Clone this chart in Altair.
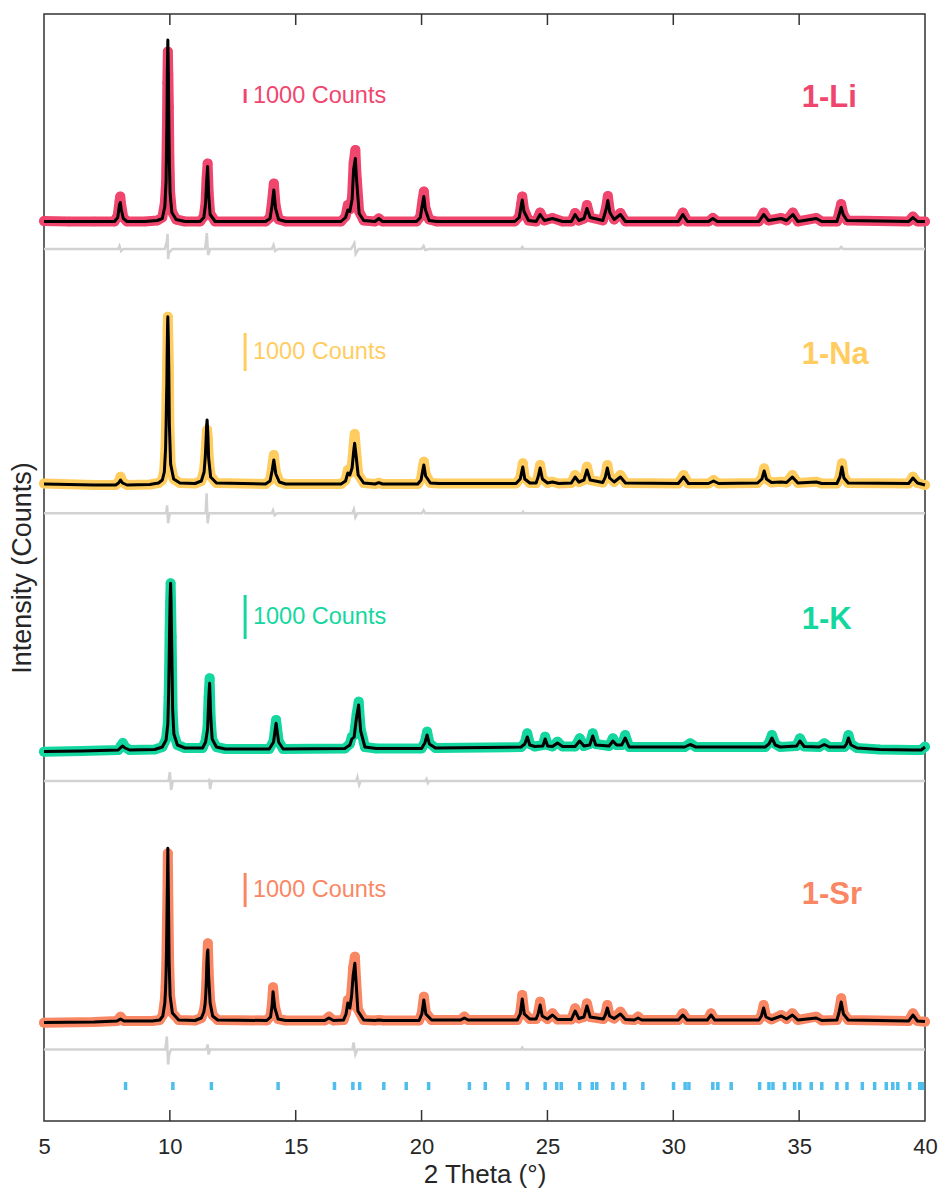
import altair as alt
import pandas as pd

# ---------------- data ----------------
PANELS = ["1-Li", "1-Na", "1-K", "1-Sr"]
COLORS = ["#F0466E", "#FFCD5F", "#14D7A0", "#FA8764"]
OFFSETS = [899.5, 637.0, 372.0, 100.0]          # stacking offset of each pattern
DIFF_OFFSETS = [872.0, 607.7, 340.0, 71.5]      # stacking offset of each difference curve
BAR_CENTER = [1025.0, 769.0, 504.0, 231.0]      # centre of the "1000 Counts" bar
BAR_LENGTH = [14.0, 38.0, 44.0, 34.0]           # length of 1000 counts in each pattern
LABEL_Y = [1023.0, 766.0, 501.0, 226.0]
X_TICKS = [5, 10, 15, 20, 25, 30, 35, 40]

# (2theta, observed, calculated) -- intensity above each pattern's baseline
LI_PROFILE = [
    (5.00, 0.5, 0), (6.00, 0, 0), (7.00, 0, 0), (7.80, 0, 0), (7.93, 6, 4), (8.00, 20, 17),
    (8.03, 25, 19), (8.07, 16, 12), (8.15, 4, 3), (8.30, 0, 0), (9.00, 0, 0), (9.50, 1, 1),
    (9.70, 4, 3), (9.80, 18.5, 15), (9.85, 38.5, 40), (9.88, 88.5, 95), (9.89, 106.5, 118),
    (9.90, 138.5, 150), (9.92, 170, 181.5), (9.94, 146.5, 150), (9.96, 114.5, 100),
    (9.98, 64.5, 60), (10.01, 29.5, 28), (10.08, 10, 9), (10.25, 2, 2), (10.60, 0, 0),
    (11.20, 0, 0), (11.35, 5, 4), (11.42, 19.5, 18), (11.46, 43.5, 40), (11.50, 58, 55),
    (11.54, 29.5, 28), (11.60, 8, 7), (11.80, 0, 0), (13.80, 0, 0), (13.98, 4, 3),
    (14.06, 20, 16), (14.13, 38, 31.5), (14.20, 16, 13), (14.32, 2, 2), (14.60, 0, 0),
    (16.80, 0, 0), (16.98, 5, 4), (17.07, 16.5, 11.5), (17.15, 12, 10), (17.24, 25, 22),
    (17.30, 58.5, 52), (17.37, 71.5, 63), (17.41, 48.5, 45), (17.43, 41.5, 38), (17.52, 10, 8),
    (17.70, 1, 1), (18.15, 0, 0), (18.30, 3, 3), (18.45, 0, 0), (19.80, 0, 0), (19.95, 5, 4),
    (20.04, 22, 18), (20.09, 30, 25), (20.15, 14, 12), (20.30, 2, 1), (20.60, 0, 0),
    (23.70, 0, 0), (23.88, 5, 4), (23.96, 18, 16), (24.00, 25, 21.5), (24.07, 12, 10),
    (24.25, 1, 1), (24.55, 0, 0), (24.71, 9, 7), (24.88, 1, 1), (25.20, 3.5, 3), (25.60, 0, 0),
    (25.95, 0, 0), (26.10, 8.5, 7), (26.25, 1, 1), (26.45, 3, 3), (26.57, 16.5, 13),
    (26.70, 4, 4), (27.20, 1, 1), (27.33, 14, 12), (27.40, 25.5, 21), (27.48, 10, 9),
    (27.65, 2, 2), (27.90, 8.5, 7), (28.10, 0, 0), (30.20, 0, 0), (30.38, 9, 7), (30.56, 0, 0),
    (31.40, 0, 0), (31.57, 3.5, 3), (31.75, 0, 0), (33.40, 0, 0), (33.59, 9, 7), (33.78, 1, 1),
    (34.29, 3.5, 3), (34.50, 1, 1), (34.75, 9, 7), (34.95, 0, 0), (35.68, 3.5, 3),
    (35.90, 0, 0), (36.50, 0, 0), (36.60, 10, 8), (36.67, 17.5, 14), (36.75, 8, 7),
    (36.90, 1, 1), (39.35, 0, 0), (39.52, 5, 4), (39.70, 0, 0), (40.00, 0, 0),
]

NA_PROFILE = [
    (5.00, 0.5, 0), (7.00, -1, -1), (7.85, -1, -1), (7.96, 2, 1), (8.04, 7.3, 4), (8.12, 2, 1),
    (8.30, -1, -1), (9.20, -0.5, -0.5), (9.55, 1, 1), (9.70, 4, 4), (9.78, 14, 12),
    (9.83, 39, 35), (9.85, 61, 58), (9.87, 89, 88), (9.88, 97.3, 100), (9.89, 119, 125),
    (9.91, 154, 160), (9.92, 167.3, 167.3), (9.94, 142.3, 145), (9.96, 119, 110),
    (9.98, 61, 60), (10.03, 20, 20), (10.15, 5, 5), (10.40, 1, 1), (11.00, 0.5, 0.5),
    (11.25, 3, 3), (11.36, 14, 12), (11.41, 27.3, 28), (11.44, 41, 45), (11.46, 47.3, 58),
    (11.48, 54, 64), (11.51, 45, 50), (11.54, 27.3, 26), (11.62, 8, 7), (11.85, 1, 1),
    (13.80, 0, 0), (13.98, 4, 3), (14.06, 16, 13), (14.13, 29, 24), (14.21, 12, 10),
    (14.35, 2, 2), (14.60, 0, 0), (16.80, 0, 0), (16.98, 4, 3), (17.07, 14, 11), (17.15, 11, 9),
    (17.24, 20, 16), (17.30, 38, 32), (17.34, 50, 40.7), (17.40, 33, 28), (17.48, 10, 9),
    (17.70, 1, 1), (18.15, 0, 0), (18.30, 1.3, 1.3), (18.45, 0, 0), (19.85, 0, 0),
    (19.98, 5, 4), (20.05, 17, 14), (20.09, 22.3, 19), (20.16, 10, 8), (20.35, 1, 1),
    (20.70, 0.5, 0.5), (23.75, 0.5, 0.5), (23.92, 6, 5), (24.02, 20.7, 17), (24.10, 6, 5),
    (24.30, 1, 1), (24.55, 1, 1), (24.63, 8, 7), (24.71, 19, 16), (24.80, 6, 5), (25.00, 1, 1),
    (25.20, 2.3, 2), (25.45, 0.5, 0.5), (25.95, 1, 1), (26.10, 9, 7), (26.25, 2, 2),
    (26.45, 4, 4), (26.57, 17.3, 14), (26.70, 4, 4), (27.20, 1.5, 1.5), (27.30, 8, 7),
    (27.38, 19, 16), (27.47, 7, 6), (27.65, 2, 2), (27.90, 9, 7), (28.10, 1, 1),
    (30.20, 0.5, 0.5), (30.41, 9, 7), (30.60, 0.5, 0.5), (31.40, 0.5, 0.5), (31.60, 4, 3),
    (31.80, 0.5, 0.5), (33.35, 1, 1), (33.52, 6, 5), (33.61, 15.7, 13), (33.70, 5, 5),
    (33.90, 1.5, 1.5), (34.29, 2.3, 2), (34.50, 1.5, 1.5), (34.73, 9, 7), (34.95, 1, 1),
    (35.68, 2.3, 2), (35.90, 0.5, 0.5), (36.50, 0.5, 0.5), (36.62, 8, 7), (36.70, 20.7, 17),
    (36.78, 7, 6), (36.95, 1, 1), (39.35, 0.5, 0.5), (39.52, 7.3, 6), (39.70, 1, 1),
    (40.00, -1, -1),
]

K_PROFILE = [
    (5.00, -2.7, -2.5), (6.50, -2, -2), (7.95, -1, -1), (8.05, 3, 1.5), (8.13, 6, 3),
    (8.22, 2, 1), (8.40, -1, -1), (9.40, -0.5, -0.5), (9.70, 2, 2), (9.85, 10, 9),
    (9.92, 26, 25), (9.95, 52, 55), (9.97, 77, 85), (9.99, 117, 120), (10.01, 146, 150),
    (10.03, 165.7, 165.7), (10.05, 142, 145), (10.07, 112, 110), (10.09, 74, 75),
    (10.11, 37, 40), (10.16, 15, 15), (10.30, 4, 4), (10.60, 1, 1), (11.30, 1, 1),
    (11.42, 8, 7), (11.50, 22, 20), (11.54, 52, 48), (11.58, 70.7, 65.7), (11.62, 31, 35),
    (11.68, 10, 10), (11.85, 2, 2), (12.20, 0, 0), (13.95, 0, 0), (14.12, 8, 7),
    (14.22, 29, 25.7), (14.32, 8, 7), (14.50, 0, 0), (16.95, 0.5, 0.5), (17.15, 5, 4),
    (17.23, 12.3, 10), (17.32, 14, 12), (17.42, 35, 32), (17.50, 47.3, 44), (17.58, 20, 18),
    (17.75, 2, 2), (18.20, 0.5, 0.5), (20.00, 0.5, 0.5), (20.13, 7, 6), (20.22, 17.3, 14),
    (20.31, 6, 5), (20.55, 1, 1), (23.95, 2, 2), (24.10, 6, 5), (24.20, 15.7, 12),
    (24.30, 5, 4), (24.50, 2.5, 2.5), (24.82, 4, 3), (24.91, 12.3, 10), (25.01, 4, 3),
    (25.20, 2.5, 2.5), (25.40, 7.3, 6), (25.60, 2.5, 2.5), (26.10, 2.5, 2.5), (26.28, 10.7, 8),
    (26.45, 3, 3), (26.68, 5, 4), (26.80, 15.7, 13), (26.92, 5, 4), (27.45, 3, 3),
    (27.60, 10.7, 8), (27.75, 4, 4), (27.95, 4, 4), (28.09, 14, 11), (28.25, 2, 2),
    (30.45, 2, 2), (30.67, 5.7, 4.5), (30.90, 2, 2), (33.65, 2, 2), (33.80, 6, 5),
    (33.92, 14, 11), (34.05, 5, 4), (34.25, 2, 2), (34.90, 3, 3), (35.03, 10.7, 8),
    (35.20, 2.5, 2.5), (35.80, 2, 2), (36.00, 5.7, 4.5), (36.20, 2, 2), (36.80, 2, 2),
    (36.88, 6, 5), (36.96, 14, 11), (37.06, 5, 4), (37.30, 1, 1), (38.20, -0.5, -0.5),
    (39.50, -1, -1), (39.85, -1, -1), (40.00, 2.3, 2),
]

SR_PROFILE = [
    (5.00, -1.7, -1.5), (7.00, -1, -1), (7.90, 0, 0), (8.04, 4.3, 2), (8.18, 0, 0),
    (9.30, 0, 0), (9.60, 1, 1), (9.72, 6, 5), (9.80, 21, 18), (9.83, 34.3, 32),
    (9.85, 47.7, 48), (9.87, 71, 75), (9.88, 91, 95), (9.89, 104.3, 115), (9.91, 139.3, 150),
    (9.92, 167.7, 172.7), (9.94, 120, 130), (9.97, 60, 60), (10.01, 25, 25), (10.10, 8, 8),
    (10.35, 1, 1), (11.00, 0.5, 0.5), (11.25, 3, 3), (11.35, 10, 9), (11.40, 18, 17),
    (11.43, 28, 28), (11.45, 38, 40), (11.47, 54.3, 58), (11.49, 63, 68), (11.51, 77.7, 71),
    (11.54, 50, 45), (11.60, 20, 18), (11.70, 6, 5), (11.90, 1, 1), (13.85, 0.5, 0.5),
    (14.00, 5, 4), (14.06, 18, 15), (14.10, 33.7, 29.3), (14.17, 15, 13), (14.30, 2, 2),
    (14.60, 0.5, 0.5), (16.15, 0.5, 0.5), (16.32, 4.3, 3), (16.50, 0.5, 0.5), (16.90, 1, 1),
    (17.00, 8, 7), (17.07, 21, 18), (17.15, 15, 13), (17.22, 31, 25), (17.28, 53, 45),
    (17.35, 64.3, 57.7), (17.40, 41, 38), (17.47, 12, 10), (17.70, 1, 1), (18.15, 0.5, 0.5),
    (18.30, 1, 1), (18.50, 0.5, 0.5), (19.90, 0.5, 0.5), (20.01, 8, 7), (20.09, 24.3, 21),
    (20.17, 8, 7), (20.40, 1, 1), (21.55, 1, 1), (21.70, 4.3, 3), (21.85, 1, 1),
    (23.80, 1, 1), (23.92, 8, 7), (24.00, 26, 22), (24.08, 8, 7), (24.30, 2, 2),
    (24.55, 2, 2), (24.63, 8, 7), (24.71, 19.3, 16), (24.79, 6, 5), (25.00, 2, 2),
    (25.20, 7.7, 6), (25.40, 1.5, 1.5), (25.95, 1.5, 1.5), (26.10, 12.7, 10), (26.25, 2.5, 2.5),
    (26.45, 4, 4), (26.57, 17.7, 15), (26.70, 4, 4), (27.22, 2, 2), (27.30, 7, 6),
    (27.38, 16, 13), (27.47, 5, 5), (27.65, 2.5, 2.5), (27.90, 9.3, 7), (28.10, 1.5, 1.5),
    (28.45, 1, 1), (28.60, 4.3, 3), (28.75, 1, 1), (30.20, 1, 1), (30.38, 7.7, 6),
    (30.55, 1, 1), (31.35, 1, 1), (31.50, 7.7, 6), (31.65, 1, 1), (33.40, 1, 1),
    (33.50, 6, 5), (33.59, 16, 13), (33.68, 5, 4), (33.90, 1.5, 1.5), (34.29, 6, 5),
    (34.50, 2, 2), (34.73, 7.7, 6), (34.95, 1, 1), (35.68, 4.3, 3), (35.90, 0.5, 0.5),
    (36.50, 1, 1), (36.58, 9, 8), (36.67, 22.7, 19), (36.76, 8, 7), (36.95, 1, 1),
    (39.35, 0, 0), (39.52, 7.7, 6), (39.70, 0, 0), (40.00, -0.7, -0.5),
]

# (2theta, observed - calculated)
LI_DIFF = [
    (5.0, 0), (7.95, 0), (8.00, 3), (8.06, -2), (8.15, 0), (9.80, 0), (9.88, 8), (9.91, 15),
    (9.93, -10), (9.96, -4), (10.10, 0), (11.40, 0), (11.47, 16), (11.52, -6), (11.60, 0),
    (14.05, 0), (14.12, 4), (14.18, -2), (14.30, 0), (17.20, 0), (17.33, 6), (17.38, -5),
    (17.50, 0), (20.00, 0), (20.08, 3), (20.14, -1), (20.30, 0), (23.95, 0), (24.00, 2),
    (24.06, 0), (36.60, 0), (36.67, 2), (36.74, 0), (40.0, 0),
]
NA_DIFF = [
    (5.0, 0), (9.85, 0), (9.89, 8), (9.93, -10), (10.00, 0), (11.42, 0), (11.46, 20),
    (11.50, -10), (11.56, 0), (14.05, 0), (14.10, 3), (14.16, -2), (14.25, 0), (17.25, 0),
    (17.31, 4), (17.37, -4), (17.45, 0), (20.02, 0), (20.08, 3), (20.15, 0), (24.00, 0),
    (24.03, 1.5), (24.08, 0), (40.0, 0),
]
K_DIFF = [
    (5.0, 0), (9.95, 0), (10.00, 9), (10.05, -9), (10.12, 0), (11.50, 0), (11.56, 1),
    (11.60, -8), (11.66, 0), (17.40, 0), (17.45, 4), (17.52, -4), (17.58, 0), (20.15, 0),
    (20.20, 2), (20.25, -2), (20.30, 0), (40.0, 0),
]
SR_DIFF = [
    (5.0, 0), (9.82, 0), (9.88, 13), (9.93, -15), (9.98, -4), (10.05, 0), (11.45, 0),
    (11.50, 5), (11.54, -5), (11.60, 0), (17.25, 0), (17.30, 7), (17.37, -5), (17.45, 0),
    (23.95, 0), (24.00, 2), (24.05, 0), (40.0, 0),
]

# Bragg reflection positions (2theta)
REFLECTIONS = [
    8.24, 10.12, 11.65, 14.30, 16.54, 17.27, 17.54, 18.50, 19.39, 20.28, 21.90, 22.53,
    23.43, 24.20, 24.91, 25.37, 25.55, 26.28, 26.78, 26.96, 27.60, 28.07, 28.79, 30.01,
    30.47, 30.62, 31.57, 31.77, 32.30, 33.43, 33.80, 33.96, 34.42, 34.82, 35.02, 35.48,
    35.90, 36.50, 36.90, 37.51, 38.00, 38.46, 38.72, 38.92, 39.39, 39.79, 39.90,
]
REFL_Y = [31.0, 39.0]

# ---------------- tables ----------------
PROFILES = [LI_PROFILE, NA_PROFILE, K_PROFILE, SR_PROFILE]
DIFFS = [LI_DIFF, NA_DIFF, K_DIFF, SR_DIFF]

prof_rows, diff_rows = [], []
for name, off, prof in zip(PANELS, OFFSETS, PROFILES):
    for x, o, c in prof:
        prof_rows.append({"panel": name, "x": x, "obs": off + o, "calc": off + c})
for name, off, dif in zip(PANELS, DIFF_OFFSETS, DIFFS):
    for x, d in dif:
        diff_rows.append({"panel": name, "x": x, "diff": off + d})
prof_df = pd.DataFrame(prof_rows)
diff_df = pd.DataFrame(diff_rows)

bar_df = pd.DataFrame({
    "panel": PANELS,
    "x": [12.99] * 4,
    "tx": [13.30] * 4,
    "lx": [35.10] * 4,
    "y0": [c - l / 2 for c, l in zip(BAR_CENTER, BAR_LENGTH)],
    "y1": [c + l / 2 for c, l in zip(BAR_CENTER, BAR_LENGTH)],
    "yc": BAR_CENTER,
    "ly": LABEL_Y,
    "txt": ["1000 Counts"] * 4,
})
refl_df = pd.DataFrame({"x": REFLECTIONS, "y0": REFL_Y[0], "y1": REFL_Y[1]})
tick_df = pd.DataFrame({"x": X_TICKS[1:-1]})

W, H = 881, 1107
FONT = "Liberation Sans"
TXT = "#262626"

x_scale = alt.Scale(domain=[5, 40], nice=False, zero=False)
y_scale = alt.Scale(domain=[0, H], nice=False, zero=False)
color_scale = alt.Scale(domain=PANELS, range=COLORS)

x_axis = alt.Axis(values=X_TICKS, ticks=False, domain=False, grid=False,
                  labelFontSize=22, labelPadding=15, labelColor=TXT, labelFont=FONT,
                  labelFlush=False, labelOverlap=False,
                  title="2 Theta (°)", titleFontSize=26, titleFontWeight="normal",
                  titleColor=TXT, titleFont=FONT, titlePadding=4)
y_axis = alt.Axis(labels=False, ticks=False, domain=False, grid=False,
                  title="Intensity (Counts)", titleFontSize=27, titleFontWeight="normal",
                  titleColor=TXT, titleFont=FONT, titlePadding=8)

base = alt.Chart(prof_df)

diff_line = alt.Chart(diff_df).mark_line(color="#D2D2D2", strokeWidth=2.5).encode(
    x=alt.X("x:Q", scale=x_scale, axis=x_axis),
    y=alt.Y("diff:Q", scale=y_scale, axis=y_axis),
    detail="panel:N",
)
obs_band = base.mark_line(strokeWidth=10, strokeJoin="round", strokeCap="round").encode(
    x=alt.X("x:Q", scale=x_scale),
    y=alt.Y("obs:Q", scale=y_scale),
    color=alt.Color("panel:N", scale=color_scale, legend=None),
    detail="panel:N",
)
obs_dots = base.mark_circle(size=95, opacity=1).encode(
    x=alt.X("x:Q", scale=x_scale),
    y=alt.Y("obs:Q", scale=y_scale),
    color=alt.Color("panel:N", scale=color_scale, legend=None),
)
calc_line = base.mark_line(color="black", strokeWidth=3, strokeJoin="round").encode(
    x=alt.X("x:Q", scale=x_scale),
    y=alt.Y("calc:Q", scale=y_scale),
    detail="panel:N",
)
refl = alt.Chart(refl_df).mark_rule(color="#4DBEEE", strokeWidth=3.5).encode(
    x=alt.X("x:Q", scale=x_scale),
    y=alt.Y("y0:Q", scale=y_scale),
    y2="y1:Q",
)
bars = alt.Chart(bar_df).mark_rule(strokeWidth=3).encode(
    x=alt.X("x:Q", scale=x_scale),
    y=alt.Y("y0:Q", scale=y_scale),
    y2="y1:Q",
    color=alt.Color("panel:N", scale=color_scale, legend=None),
)
bar_text = alt.Chart(bar_df).mark_text(align="left", baseline="middle", fontSize=23.5,
                                       font=FONT).encode(
    x=alt.X("tx:Q", scale=x_scale),
    y=alt.Y("yc:Q", scale=y_scale),
    text="txt:N",
    color=alt.Color("panel:N", scale=color_scale, legend=None),
)
labels = alt.Chart(bar_df).mark_text(align="left", baseline="middle", fontSize=31,
                                     fontWeight="bold", font=FONT).encode(
    x=alt.X("lx:Q", scale=x_scale),
    y=alt.Y("ly:Q", scale=y_scale),
    text="panel:N",
    color=alt.Color("panel:N", scale=color_scale, legend=None),
)
top_ticks = alt.Chart(tick_df).mark_rule(color="#333333", strokeWidth=1.5).encode(
    x=alt.X("x:Q", scale=x_scale), y=alt.value(0), y2=alt.value(11),
)
bot_ticks = alt.Chart(tick_df).mark_rule(color="#333333", strokeWidth=1.5).encode(
    x=alt.X("x:Q", scale=x_scale), y=alt.value(H - 11), y2=alt.value(H),
)

chart = alt.layer(
    diff_line, obs_band, obs_dots, calc_line, refl, bars, bar_text, labels, top_ticks, bot_ticks
).properties(
    width=W, height=H,
    autosize=alt.AutoSizeParams(type="none"),
    padding={"left": 44, "top": 14, "right": 16, "bottom": 70},
    background="white",
).configure_view(stroke="#333333", strokeWidth=1.5)

chart.save("out.html", embed_options={"renderer": "svg", "actions": False})
